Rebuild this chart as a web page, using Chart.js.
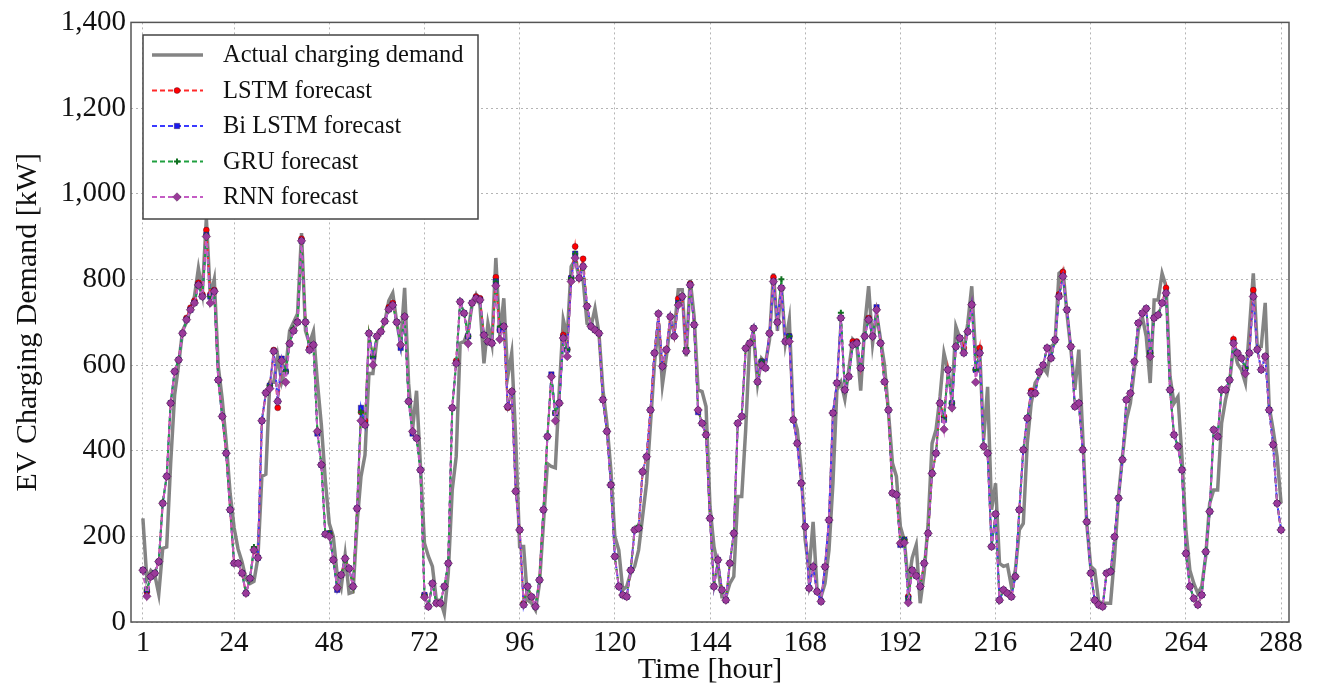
<!DOCTYPE html>
<html>
<head>
<meta charset="utf-8">
<title>EV Charging Demand forecast</title>
<script src="https://cdn.jsdelivr.net/npm/chart.js@4.4.1/dist/chart.umd.min.js"></script>
<style>
    body { margin: 0; background: #ffffff; }
    #wrap { width: 1317px; height: 688px; }
</style>
</head>
<body>
<div id="wrap"><canvas id="chart" width="1317" height="688"></canvas></div>
<script>
// hour index 1..288
const hours = Array.from({ length: 288 }, (_, i) => i + 1);
const xTicks = [1, 24, 48, 72, 96, 120, 144, 168, 192, 216, 240, 264, 288];
const yTicks = [0, 200, 400, 600, 800, 1000, 1200, 1400];

// one row per day (24 h)
const actual = [
    242,100,120,110,65,172,175,370,530,600,680,700,730,760,826,770,943,760,800,597,520,420,300,220,
    170,140,100,90,95,150,340,345,560,560,620,560,590,680,700,720,908,680,650,678,560,460,330,230,
    200,110,80,156,67,70,230,340,390,580,580,660,680,700,750,768,700,650,780,557,450,540,363,184,
    153,130,51,51,20,114,308,386,651,655,680,740,764,740,604,697,650,850,667,756,573,628,430,176,
    176,51,44,28,90,230,370,363,360,542,706,667,830,846,803,800,697,690,732,674,542,464,355,200,
    168,75,83,114,130,168,246,324,464,604,697,554,620,697,682,776,776,620,799,713,542,538,503,269,
    176,130,59,59,90,106,293,293,449,651,667,557,615,604,659,814,680,784,651,706,480,449,355,192,
    121,234,75,59,90,168,324,542,560,520,590,660,650,540,690,784,650,720,660,600,490,371,340,223,
    190,90,150,180,44,114,230,417,449,526,628,589,526,690,663,636,697,784,620,636,425,549,262,324,
    137,130,133,83,121,215,230,417,511,558,573,595,581,643,651,814,822,721,636,542,636,433,230,130,
    121,48,44,44,44,153,293,386,472,511,589,682,713,667,558,752,752,814,784,573,511,526,386,215,
    121,90,67,83,153,277,308,308,464,519,558,643,604,589,558,682,814,643,643,745,503,449,386,277
];

const lstm = [
    121,70,106,114,141,277,340,511,585,612,674,710,734,750,792,765,915,765,775,565,480,394,262,137,
    137,114,67,102,168,150,470,535,552,635,500,610,585,650,680,700,895,700,640,647,445,367,205,207,
    145,80,110,148,125,83,265,490,470,674,620,667,678,702,735,745,700,647,713,515,445,429,355,63,
    36,90,44,44,83,137,500,610,748,721,667,745,760,756,670,655,651,805,682,690,500,538,305,215,
    44,83,59,36,98,262,433,573,488,511,670,636,803,877,803,848,737,690,682,674,519,445,320,153,
    83,63,59,121,215,219,351,386,495,628,720,597,636,713,667,755,760,632,790,694,495,464,437,242,
    83,145,75,51,137,207,464,480,639,651,686,561,608,593,674,805,700,780,655,667,472,417,324,223,
    79,129,71,48,129,238,488,558,710,542,573,655,655,593,667,710,667,729,651,561,495,301,297,184,
    192,60,121,108,83,137,207,347,394,511,480,589,511,643,663,640,678,741,589,640,410,394,176,252,
    51,75,67,59,106,262,402,476,540,534,584,600,640,616,659,765,817,729,643,503,511,402,234,114,
    51,40,36,114,118,199,289,379,519,534,608,698,721,732,628,710,717,745,780,542,437,410,355,160,
    83,55,40,63,164,258,449,433,542,542,565,660,628,616,593,628,775,636,589,620,495,414,277,215
];

const biLstm = [
    121,75,106,114,141,277,340,511,585,612,674,706,729,745,787,760,904,760,772,565,480,394,262,137,
    137,114,67,102,168,150,470,535,552,632,515,615,585,650,680,700,890,700,635,647,440,367,205,207,
    145,75,110,148,125,83,265,500,460,674,620,667,678,702,730,740,700,640,713,515,440,429,355,63,
    36,90,44,44,83,137,500,604,748,721,667,745,756,752,670,655,651,795,682,690,503,538,305,215,
    40,83,59,36,98,262,433,578,488,511,663,636,803,860,803,830,737,690,682,674,519,445,320,153,
    83,63,59,121,215,219,351,386,495,628,720,597,636,713,667,745,760,632,787,694,490,464,437,242,
    83,145,75,51,137,207,464,480,639,651,686,561,608,593,674,795,700,780,655,667,472,417,324,223,
    79,129,71,48,129,238,488,558,710,542,573,647,651,593,667,706,667,735,651,561,495,301,297,180,
    192,55,121,108,83,137,207,347,394,511,472,589,511,643,663,628,678,741,589,628,410,394,176,252,
    51,75,67,59,106,262,402,476,534,534,584,600,640,616,659,760,807,729,643,503,511,402,234,114,
    51,40,36,114,118,199,289,379,519,534,608,698,721,732,628,710,717,745,768,542,437,410,355,160,
    83,55,40,63,164,258,449,433,542,542,565,651,628,616,593,628,760,636,589,620,495,414,277,215
];

const gru = [
    121,75,106,114,141,280,340,511,585,612,674,706,729,745,787,760,904,760,772,565,480,394,262,137,
    137,114,67,102,175,150,470,535,552,632,515,610,585,650,686,700,890,700,635,647,445,367,205,207,
    145,80,110,148,125,83,265,490,460,674,620,667,678,702,730,740,700,647,713,515,445,429,355,63,
    36,90,44,44,83,137,500,604,748,721,667,745,756,752,670,655,651,795,690,690,503,538,305,215,
    44,83,59,36,98,262,433,573,488,511,663,636,803,860,803,830,737,690,682,674,519,445,320,153,
    83,63,59,121,215,225,351,386,495,628,720,597,636,713,667,745,760,640,787,694,495,464,437,242,
    83,145,75,51,137,207,464,480,639,651,686,561,608,593,674,795,700,800,655,667,472,417,324,223,
    79,129,71,48,129,238,488,558,722,542,573,647,651,593,667,706,667,729,651,561,495,301,297,184,
    192,55,121,108,83,137,207,347,394,511,472,589,511,643,663,628,678,741,589,628,410,394,176,252,
    51,75,67,59,106,262,402,476,534,534,584,600,640,616,659,760,807,729,643,503,511,402,234,114,
    51,40,36,114,118,199,289,379,519,534,608,698,721,732,628,710,717,745,768,542,437,410,355,160,
    83,55,40,63,164,258,449,433,542,542,565,651,628,616,593,628,760,636,589,620,495,414,277,215
];

const rnn = [
    121,60,106,114,141,277,340,511,585,612,674,706,729,745,787,760,900,745,772,565,480,394,262,137,
    137,114,67,102,168,150,470,535,545,632,515,610,560,650,680,700,890,700,635,647,445,367,205,200,
    145,80,110,148,125,83,265,470,460,674,600,667,678,702,730,740,700,647,713,515,445,429,355,58,
    36,90,44,44,83,137,500,604,748,721,650,745,756,752,670,655,651,785,660,690,503,538,305,215,
    40,83,59,36,98,262,433,573,470,511,663,620,795,850,803,830,737,690,682,674,519,445,320,153,
    83,63,59,121,215,219,351,386,495,628,720,597,636,713,667,740,760,632,787,694,495,464,437,242,
    83,145,75,51,137,207,464,480,639,651,686,561,600,593,674,795,700,780,655,655,472,417,324,223,
    79,129,71,48,129,238,488,558,710,542,573,647,651,593,667,706,667,729,651,561,495,301,297,184,
    185,45,121,108,83,137,207,347,394,511,450,589,500,643,663,628,678,741,560,628,410,394,176,252,
    51,75,67,59,106,262,402,476,534,534,584,600,640,616,659,760,807,729,643,503,511,402,234,114,
    51,40,36,114,118,199,289,379,519,534,608,698,721,732,620,710,717,745,768,542,437,410,355,160,
    83,55,40,63,164,258,449,433,542,542,565,651,628,616,580,628,760,636,589,620,495,414,277,215
];

const SERIF = "'Liberation Serif', 'Times New Roman', 'DejaVu Serif', serif";

function toPoints(values) {
    return hours.map((h, i) => ({ x: h, y: values[i] }));
}

function forecastSet(label, values, line, fill, marker, radius, order) {
    return {
        label: label,
        data: toPoints(values),
        borderColor: line,
        borderWidth: 2,
        borderDash: [5, 3],
        pointStyle: marker,
        pointRadius: radius,
        pointBackgroundColor: fill,
        pointBorderColor: marker === 'cross' ? fill : 'rgba(40,0,40,0.6)',
        pointBorderWidth: marker === 'cross' ? 2 : 0.6,
        tension: 0,
        order: order
    };
}

// draw a marker the same way in the legend box
function drawMarker(ctx, ds, x, y) {
    const r = ds.pointRadius;
    ctx.save();
    ctx.fillStyle = ds.pointBackgroundColor;
    ctx.strokeStyle = ds.pointBorderColor;
    ctx.lineWidth = ds.pointBorderWidth;
    ctx.setLineDash([]);
    ctx.beginPath();
    if (ds.pointStyle === 'circle') {
        ctx.arc(x, y, r, 0, Math.PI * 2);
    } else if (ds.pointStyle === 'rect') {
        const s = r * Math.SQRT1_2;
        ctx.rect(x - s, y - s, 2 * s, 2 * s);
    } else if (ds.pointStyle === 'rectRot') {
        ctx.moveTo(x, y - r);
        ctx.lineTo(x + r, y);
        ctx.lineTo(x, y + r);
        ctx.lineTo(x - r, y);
        ctx.closePath();
    } else if (ds.pointStyle === 'cross') {
        ctx.moveTo(x - r, y); ctx.lineTo(x + r, y);
        ctx.moveTo(x, y - r); ctx.lineTo(x, y + r);
        ctx.stroke();
        ctx.restore();
        return;
    }
    ctx.fill();
    ctx.stroke();
    ctx.restore();
}

const frameAndLegend = {
    id: 'frameAndLegend',
    afterDraw(chart) {
        const ctx = chart.ctx;
        const a = chart.chartArea;

        // plot frame
        ctx.save();
        ctx.strokeStyle = '#555555';
        ctx.lineWidth = 1.5;
        ctx.setLineDash([]);
        ctx.strokeRect(a.left, a.top, a.right - a.left, a.bottom - a.top);
        ctx.restore();

        // legend box, upper left inside the plot
        const bx = 143, by = 35, bw = 335, bh = 184;
        ctx.save();
        ctx.fillStyle = '#ffffff';
        ctx.fillRect(bx, by, bw, bh);
        ctx.strokeStyle = '#444444';
        ctx.lineWidth = 1.5;
        ctx.strokeRect(bx, by, bw, bh);

        ctx.font = '24.5px ' + SERIF;
        ctx.textBaseline = 'middle';
        ctx.textAlign = 'left';
        chart.data.datasets.forEach((ds, i) => {
            const y = 55 + i * 35.5;
            ctx.save();
            ctx.strokeStyle = ds.borderColor;
            ctx.lineWidth = ds.borderWidth;
            ctx.setLineDash(ds.borderDash || []);
            ctx.beginPath();
            ctx.moveTo(152, y);
            ctx.lineTo(203, y);
            ctx.stroke();
            ctx.restore();
            if (ds.pointRadius > 0) {
                drawMarker(ctx, ds, 177, y);
            }
            ctx.fillStyle = '#111111';
            ctx.fillText(ds.label, 223, y + 1);
        });
        ctx.restore();
    }
};

const chart = new Chart(document.getElementById('chart'), {
    type: 'line',
    data: {
        datasets: [
            {
                label: 'Actual charging demand',
                data: toPoints(actual),
                borderColor: 'rgba(110,110,110,0.85)',
                borderWidth: 3.5,
                pointRadius: 0,
                tension: 0,
                order: 5
            },
            forecastSet('LSTM forecast', lstm, '#ff2a2a', '#ff0000', 'circle', 3, 4),
            forecastSet('Bi LSTM forecast', biLstm, '#3a3aff', '#1a1aee', 'rect', 3.8, 3),
            forecastSet('GRU forecast', gru, '#20a040', '#107020', 'cross', 3, 2),
            forecastSet('RNN forecast', rnn, '#c45cc4', '#9a3a9a', 'rectRot', 4.3, 1)
        ]
    },
    options: {
        responsive: false,
        animation: false,
        events: [],
        layout: { padding: { left: 0, top: 22, right: 28, bottom: 0 } },
        plugins: {
            legend: { display: false },
            tooltip: { enabled: false }
        },
        scales: {
            x: {
                type: 'linear',
                min: -2,
                max: 290,
                afterBuildTicks: (scale) => {
                    scale.ticks = xTicks.map(v => ({ value: v }));
                },
                afterFit: (scale) => { scale.height = 66; },
                grid: { color: '#b4b4b4', lineWidth: 1, drawTicks: false },
                border: { display: false, dash: [2, 3] },
                ticks: {
                    color: '#111111',
                    font: { family: SERIF, size: 29 },
                    padding: 4,
                    maxRotation: 0,
                    autoSkip: false,
                    callback: (v) => v
                },
                title: {
                    display: true,
                    text: 'Time [hour]',
                    color: '#111111',
                    font: { family: SERIF, size: 30 },
                    padding: { top: 0, bottom: 0 }
                }
            },
            y: {
                type: 'linear',
                min: 0,
                max: 1400,
                afterBuildTicks: (scale) => {
                    scale.ticks = yTicks.map(v => ({ value: v }));
                },
                afterFit: (scale) => { scale.width = 131; },
                grid: { color: '#b4b4b4', lineWidth: 1, drawTicks: false },
                border: { display: false, dash: [2, 3] },
                ticks: {
                    color: '#111111',
                    font: { family: SERIF, size: 29 },
                    padding: 5,
                    callback: (v) => v.toLocaleString('en-US')
                },
                title: {
                    display: true,
                    text: 'EV Charging Demand [kW]',
                    color: '#111111',
                    font: { family: SERIF, size: 30 },
                    padding: { top: 10, bottom: 0 }
                }
            }
        }
    },
    plugins: [frameAndLegend]
});
</script>
</body>
</html>
